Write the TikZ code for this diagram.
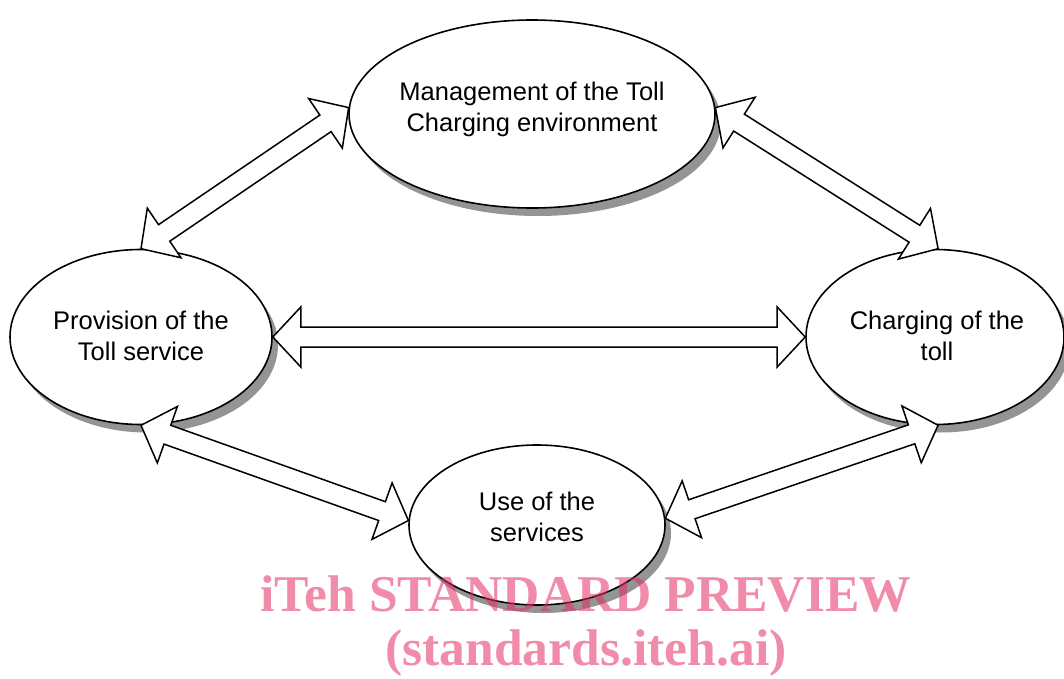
\documentclass[tikz,border=0pt]{standalone}
\usepackage{fontspec}
\setmainfont{Liberation Sans}
\newfontfamily\wmfont{Liberation Serif}
\usetikzlibrary{calc,shapes.geometric,shadows}

\definecolor{wmpink}{RGB}{228,46,100}

\tikzset{
  area/.style={ellipse, draw=black, line width=1.6pt, fill=white, inner sep=0pt,
    drop shadow={shadow xshift=6pt, shadow yshift=-8pt, fill=black!42, opacity=1}},
  lbl/.style={align=center, font=\fontsize{25.5}{31}\selectfont, inner sep=0pt},
  flow/.style={draw=black, line width=1.5pt, fill=white, line join=miter},
  watermark/.style={text=wmpink, text opacity=0.55, inner sep=0pt, anchor=base,
    font=\wmfont\bfseries\fontsize{51.6}{55}\selectfont},
}

% hollow double-headed block arrow between two points
\newcommand\blockarrow[2]{%
  \path[flow] let \p1=($(#1)!28pt!(#2)$), \p2=($(#2)!28pt!(#1)$) in
    (#1) -- ($(\p1)!30pt!90:(#2)$) -- ($(\p1)!10pt!90:(#2)$)
    -- ($(\p2)!10pt!-90:(#1)$) -- ($(\p2)!30pt!-90:(#1)$) -- (#2)
    -- ($(\p2)!30pt!90:(#1)$) -- ($(\p2)!10pt!90:(#1)$)
    -- ($(\p1)!10pt!-90:(#2)$) -- ($(\p1)!30pt!-90:(#2)$) -- cycle;%
}

\begin{document}
\begin{tikzpicture}[x=1pt,y=-1pt]
  \useasboundingbox (0,0) rectangle (1064,679);
  \clip (0,0) rectangle (1064,679);

  % the four areas
  \node[area, minimum width=366pt, minimum height=188pt] (mgmt) at (532,114) {};
  \node[area, minimum width=262pt, minimum height=175pt] (prov) at (141,337) {};
  \node[area, minimum width=258pt, minimum height=175pt] (charge) at (935,337) {};
  \node[area, minimum width=256pt, minimum height=160pt] (use) at (537,525) {};

  \node[lbl] (mgmtlbl) at (532,109) {Management of the Toll\\Charging environment};
  \node[lbl] (provlbl) at (141,336) {Provision of the\\Toll service};
  \node[lbl] (chargelbl) at (937,336) {Charging of the\\toll};
  \node[lbl] (uselbl) at (537,517) {Use of the\\services};

  % interactions
  \blockarrow{prov.90}{mgmt.178}
  \blockarrow{mgmt.2}{charge.88}
  \blockarrow{prov.east}{charge.west}
  \blockarrow{prov.270}{use.178}
  \blockarrow{use.3}{charge.272}

  % overlay text
  \node[watermark] (wm1) at (586,611) {iTeh STANDARD PREVIEW};
  \node[watermark] (wm2) at (586,665) {(standards.iteh.ai)};
\end{tikzpicture}
\end{document}
